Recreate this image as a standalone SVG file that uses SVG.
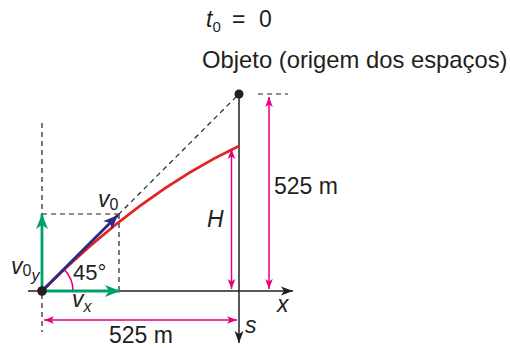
<svg xmlns="http://www.w3.org/2000/svg" width="510" height="348" viewBox="0 0 510 348">
<defs>
<style>
.t{font-family:"Liberation Sans",Arial,sans-serif;fill:#231f20}
.i{font-style:italic}
.dash{stroke:#231f20;stroke-width:1.2;stroke-dasharray:5 4;fill:none}
.ax{stroke:#231f20;stroke-width:1.5;fill:none}
.pk{stroke:#e6007e;stroke-width:1.5;fill:none}
.gr{stroke:#00a06a;stroke-width:2.8;fill:none}
</style>
<marker id="ab" markerUnits="userSpaceOnUse" markerWidth="14" markerHeight="12" viewBox="-12 -6 14 12" refX="0" refY="0" orient="auto"><path d="M0,0 L-12,-4.5 L-9,0 L-12,4.5 Z" fill="#231f20"/></marker>
<marker id="ap" markerUnits="userSpaceOnUse" markerWidth="12" markerHeight="10" viewBox="-10 -5 12 10" refX="0" refY="0" orient="auto-start-reverse"><path d="M0,0 L-10,-3.8 L-7.5,0 L-10,3.8 Z" fill="#e6007e"/></marker>
<marker id="ag" markerUnits="userSpaceOnUse" markerWidth="16" markerHeight="14" viewBox="-15 -7 16 14" refX="0" refY="0" orient="auto"><path d="M0,0 L-15,-6 L-11,0 L-15,6 Z" fill="#00a06a"/></marker>
<marker id="abl" markerUnits="userSpaceOnUse" markerWidth="16" markerHeight="14" viewBox="-15 -7 16 14" refX="0" refY="0" orient="auto"><path d="M0,0 L-15,-6 L-11,0 L-15,6 Z" fill="#2b2a84"/></marker>
</defs>

<g id="connectors">
<line class="dash" x1="42" y1="123" x2="42" y2="332"/>
<line class="dash" x1="42" y1="214" x2="119" y2="214"/>
<line class="dash" x1="119" y1="214" x2="119" y2="291"/>
<line class="dash" x1="42" y1="291" x2="239" y2="94"/>
<line class="dash" x1="258" y1="94" x2="288" y2="94"/>
<line class="ax" x1="28" y1="291" x2="293" y2="291" marker-end="url(#ab)"/>
<line class="ax" x1="239" y1="94" x2="239" y2="343" marker-end="url(#ab)"/>
<path d="M42,291 Q140.5,192.5 239,146" stroke="#e52421" stroke-width="2.8" fill="none"/>
<line class="pk" x1="231.5" y1="149" x2="231.5" y2="289" marker-start="url(#ap)" marker-end="url(#ap)"/>
<line class="pk" x1="269" y1="97" x2="269" y2="289" marker-start="url(#ap)" marker-end="url(#ap)"/>
<line class="pk" x1="44" y1="320" x2="237" y2="320" marker-start="url(#ap)" marker-end="url(#ap)"/>
<path d="M73,291 A31,31 0 0 0 63.9,269.1" class="pk" stroke-width="1.2"/>
<line class="gr" x1="42" y1="291" x2="42" y2="214" marker-end="url(#ag)"/>
<line class="gr" x1="42" y1="291" x2="120" y2="291" marker-end="url(#ag)"/>
<line x1="42" y1="291" x2="118" y2="215" stroke="#2b2a84" stroke-width="2.8" marker-end="url(#abl)"/>
</g>

<g id="origin"><circle cx="42" cy="291" r="4.8" fill="#231f20"/></g>
<g id="objeto"><circle cx="239" cy="94" r="4.5" fill="#231f20"/></g>

<g id="labels">
<text class="t" y="27" font-size="23"><tspan class="i" x="206">t</tspan><tspan font-size="15" dy="5">0</tspan><tspan x="232" dy="-5">=</tspan><tspan x="259">0</tspan></text>
<text class="t" x="202" y="68" font-size="23.8">Objeto (origem dos espaços)</text>
<text class="t i" x="98" y="207" font-size="23">v<tspan font-size="16" dy="3" font-style="normal">0</tspan></text>
<text class="t i" x="11" y="274" font-size="23">v<tspan font-size="16" dy="2" font-style="normal">0</tspan><tspan font-size="16" dy="5">y</tspan></text>
<text class="t" x="73" y="280" font-size="22">45°</text>
<text class="t i" x="72" y="307" font-size="23">v<tspan font-size="16" dy="5">x</tspan></text>
<text class="t i" x="207" y="227" font-size="23">H</text>
<text class="t" x="274" y="194" font-size="23">525 m</text>
<text class="t" x="109" y="343" font-size="23">525 m</text>
<text class="t i" x="277" y="312" font-size="23">x</text>
<text class="t i" x="245" y="333" font-size="23">s</text>
</g>
</svg>
